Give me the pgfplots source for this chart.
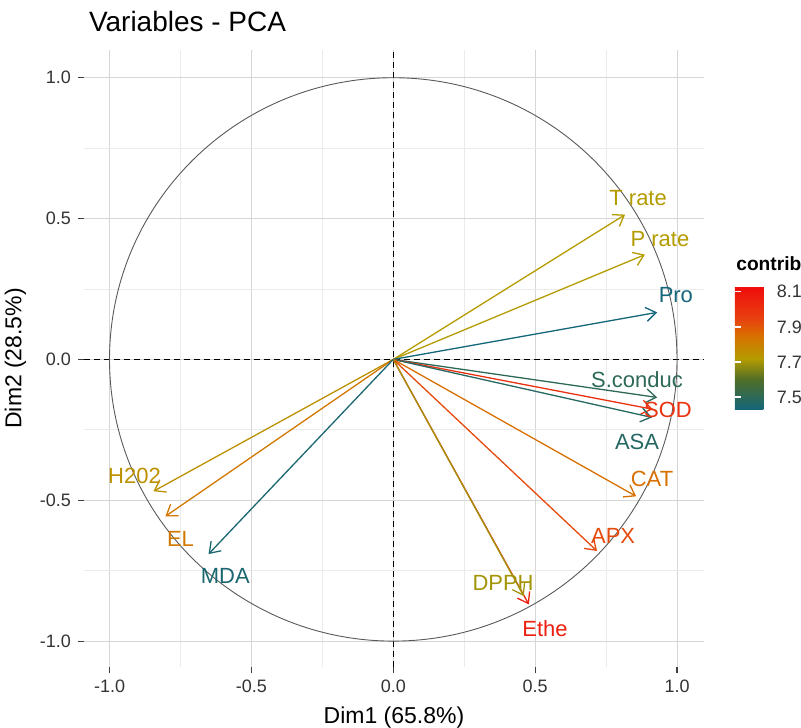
\documentclass[border=0pt]{standalone}
\usepackage{fontspec}
\setmainfont{Liberation Sans}
\usepackage{pgfplots}
\pgfplotsset{compat=1.18}
\usetikzlibrary{arrows.meta}
\begin{document}
\begin{tikzpicture}
\begin{axis}[
  scale only axis, width=310.3pt, height=308.9pt,
  xmin=-1.09, xmax=1.095, ymin=-1.092, ymax=1.099,
  clip=false,
  axis line style={draw=none},
  xtick={-1,-0.5,0,0.5,1}, ytick={-1,-0.5,0,0.5,1},
  minor xtick={-0.75,-0.25,0.25,0.75}, minor ytick={-0.75,-0.25,0.25,0.75},
  grid=both,
  major grid style={draw=black!16, line width=0.5pt},
  minor grid style={draw=black!8, line width=0.4pt},
  xtick pos=bottom, ytick pos=left,
  tick align=outside, major tick length=3pt, minor tick length=0pt,
  tick style={black!75, line width=0.6pt},
  /pgf/number format/assume math mode=true,
  /pgf/number format/.cd, fixed, fixed zerofill, precision=1,
  /pgfplots/.cd,
  ticklabel style={font=\fontsize{9}{10}\selectfont, text=black!80},
  xlabel={Dim1 (65.8\%)}, ylabel={Dim2 (28.5\%)},
  label style={font=\fontsize{11.5}{13}\selectfont},
  colormap={contrib}{rgb255(0)=(20,102,122) rgb255(17)=(80,110,40) rgb255(29)=(180,155,0) rgb255(42)=(216,112,0) rgb255(52)=(232,64,16) rgb255(70)=(240,12,12)},
  point meta min=7.43, point meta max=8.13,
  colorbar,
  colorbar style={
    at={(1.05,0.6165)}, anchor=north west,
    width=17.5pt, height=61.5pt,
    ytick={7.5,7.7,7.9,8.1},
    axis line style={draw=none},
    tick align=inside, major tick length=3pt,
    tick style={white, line width=0.7pt},
    /pgf/number format/assume math mode=true,
    yticklabel style={font=\fontsize{9}{10}\selectfont, /pgf/number format/.cd, fixed, fixed zerofill, precision=1, assume math mode=true},
    title={contrib},
    title style={font=\bfseries\fontsize{9.6}{11}\selectfont, anchor=south west, at={(0,1)}, yshift=1pt, inner sep=0.5pt},
  },
]
% reference lines
\addplot[black, dashed, line width=0.6pt, dash pattern=on 3pt off 2pt, forget plot] coordinates {(0,-1.092) (0,1.099)};
\addplot[black, dashed, line width=0.6pt, dash pattern=on 3pt off 2pt, forget plot] coordinates {(-1.09,0) (1.095,0)};
\draw[black!65, line width=0.45pt] (axis cs:0,0) ellipse [x radius=1, y radius=1];
% arrows
\addplot[
  point meta=\thisrow{c},
  quiver={u=\thisrow{u}, v=\thisrow{v}, colored=mapped color,
    every arrow/.append style={line width=0.65pt, -{Straight Barb[length=5pt,width=7pt]}}},
] table[col sep=comma] {
x,y,u,v,c
0,0,0.817,0.514,7.72
0,0,0.887,0.372,7.72
0,0,0.930,0.167,7.43
0,0,0.930,-0.135,7.50
0,0,0.915,-0.177,8.00
0,0,0.912,-0.206,7.48
0,0,0.856,-0.486,7.85
0,0,0.718,-0.680,7.93
0,0,0.478,-0.870,8.06
0,0,0.460,-0.840,7.70
0,0,-0.845,-0.468,7.75
0,0,-0.803,-0.557,7.83
0,0,-0.651,-0.691,7.45
};
% labels (cm = position of contrib on the colormap, 0..1000)
\addplot[
  only marks, mark=none,
  visualization depends on={value \thisrow{name} \as \lab},
  visualization depends on={value \thisrow{cm} \as \cmv},
  nodes near coords={\lab},
  every node near coord/.append style={anchor=center, color of colormap={\cmv}, text=., font=\fontsize{11}{12}\selectfont, inner sep=0pt},
] table[col sep=comma, x=lx, y=ly] {
lx,ly,cm,name
0.863,0.574,414,T rate
0.940,0.426,414,P rate
0.996,0.227,0,Pro
0.859,-0.071,100,S.conduc
0.968,-0.181,814,SOD
0.859,-0.294,71,ASA
0.912,-0.426,600,CAT
0.775,-0.628,714,APX
0.387,-0.794,386,DPPH
0.535,-0.957,900,Ethe
-0.912,-0.415,457,H202
-0.750,-0.638,571,EL
-0.592,-0.770,29,MDA
};
\node[anchor=base west, font=\fontsize{14}{16}\selectfont] at (axis cs:-1.097,1.163) {Variables - PCA};
\coordinate (bbll) at (axis cs:-1.386,-1.308);
\coordinate (bbur) at (axis cs:1.437,1.276);
\end{axis}
\pgfresetboundingbox
\useasboundingbox (bbll) rectangle (bbur);
\end{tikzpicture}
\end{document}
